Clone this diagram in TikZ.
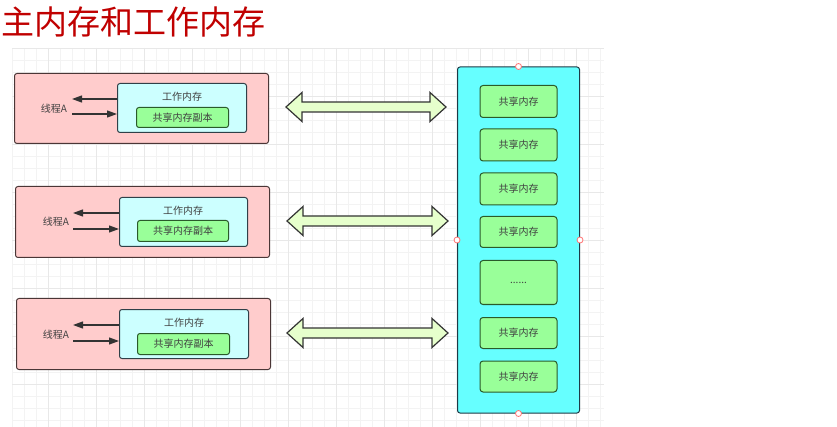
\documentclass[tikz,border=0pt]{standalone}
\usepackage{fontspec}
\setmainfont{Noto Sans CJK SC}
\usetikzlibrary{arrows.meta}
\definecolor{pinkc}{HTML}{FFCCCC}
\definecolor{pinkb}{HTML}{4A3636}
\definecolor{lcyan}{HTML}{CCFFFF}
\definecolor{lcyanb}{HTML}{2F4048}
\definecolor{greenc}{HTML}{99FF99}
\definecolor{greenb}{HTML}{2A5A2A}
\definecolor{bigc}{HTML}{66FFFF}
\definecolor{bigb}{HTML}{1E3A46}
\definecolor{arrc}{HTML}{E6FFCC}
\definecolor{titlec}{HTML}{C00000}
\definecolor{gridminor}{HTML}{F3F3F3}
\definecolor{gridmajor}{HTML}{E8E8E8}
\tikzset{
  outerbox/.style={draw=pinkb, fill=pinkc, line width=1pt, rounded corners=2.5pt, inner sep=0pt, anchor=north west},
  innerbox/.style={draw=lcyanb, fill=lcyan, line width=1pt, rounded corners=2.5pt, inner sep=0pt, anchor=north west},
  copybox/.style={draw=greenb, fill=greenc, line width=1pt, rounded corners=2.5pt, inner sep=0pt, anchor=north west, font=\fontsize{10}{12}\selectfont, text=black!75},
  bigbox/.style={draw=bigb, fill=bigc, line width=1pt, rounded corners=2.5pt, inner sep=0pt, anchor=north west},
  sharebox/.style={draw=greenb, fill=greenc, line width=1pt, rounded corners=3pt, inner sep=0pt, anchor=north west, minimum width=77pt, font=\fontsize{10}{12}\selectfont, text=black!75},
  lbl/.style={font=\fontsize{10}{12}\selectfont, text=black!75, inner sep=0pt},
  thread/.style={draw=black!80, line width=1.2pt, -{Triangle[length=10pt,width=7pt]}},
  blockarrow/.style={draw=black!80, fill=arrc, line width=1.2pt, line join=miter},
  handle/.style={circle, draw=red!55, fill=white, line width=0.8pt, inner sep=0pt, minimum size=6pt}
}
\newcommand\dblarr[3]{%
  \draw[blockarrow] (#1,#3) -- (#1+16,#3-14.5) -- (#1+16,#3-5) -- (#2-16,#3-5) -- (#2-16,#3-14.5) -- (#2,#3) -- (#2-16,#3+14.5) -- (#2-16,#3+5) -- (#1+16,#3+5) -- (#1+16,#3+14.5) -- cycle;}
\begin{document}
\begin{tikzpicture}[x=1pt,y=-1pt]
\useasboundingbox (0,0) rectangle (837,427);
\fill[white] (0,0) rectangle (837,427);
% grid
\draw[gridminor, line width=0.5pt] (12,48) grid[step=12pt] (604,427);
\foreach \x in {48,96,...,600} \draw[gridmajor, line width=0.6pt] (\x,48) -- (\x,427);
\foreach \y in {48,96,...,420} \draw[gridmajor, line width=0.6pt] (12,\y) -- (604,\y);
% title
\node[anchor=base west, inner sep=0pt, text=titlec, font=\fontsize{33}{36}\selectfont] (title) at (1,35) {主内存和工作内存};

% group 1
\node[outerbox, minimum width=254pt, minimum height=70pt] (o1) at (14,73) {};
\node[innerbox, minimum width=129pt, minimum height=49pt] (w1) at (117,83) {};
\node[lbl] (wt1) at (182,97) {工作内存};
\node[copybox, minimum width=92pt, minimum height=20pt] (c1) at (136,107) {共享内存副本};
\node[lbl] (t1) at (54,109) {线程A};
\coordinate (a1) at (72,99);
\coordinate (b1) at (72,114);
\draw[thread] (w1.west |- a1) -- (a1);
\draw[thread] (b1) -- (w1.west |- b1);

% group 2
\node[outerbox, minimum width=254pt, minimum height=71pt] (o2) at (15,186) {};
\node[innerbox, minimum width=128pt, minimum height=49pt] (w2) at (119,197) {};
\node[lbl] (wt2) at (183,211) {工作内存};
\node[copybox, minimum width=91pt, minimum height=21pt] (c2) at (137,220) {共享内存副本};
\node[lbl] (t2) at (56,222) {线程A};
\coordinate (a2) at (73,213);
\coordinate (b2) at (73,229);
\draw[thread] (w2.west |- a2) -- (a2);
\draw[thread] (b2) -- (w2.west |- b2);

% group 3
\node[outerbox, minimum width=254pt, minimum height=71pt] (o3) at (16,298) {};
\node[innerbox, minimum width=129pt, minimum height=49pt] (w3) at (119,309) {};
\node[lbl] (wt3) at (184,323) {工作内存};
\node[copybox, minimum width=92pt, minimum height=21pt] (c3) at (137,333) {共享内存副本};
\node[lbl] (t3) at (56,335) {线程A};
\coordinate (a3) at (73,325);
\coordinate (b3) at (73,341);
\draw[thread] (w3.west |- a3) -- (a3);
\draw[thread] (b3) -- (w3.west |- b3);

% block arrows
\dblarr{286}{446}{107}
\dblarr{287}{448}{221}
\dblarr{287}{448}{333}

% main memory
\node[bigbox, minimum width=122pt, minimum height=346pt] (main) at (457,66.5) {};
\node[sharebox, minimum height=32pt] (s1) at (479.5,85) {共享内存};
\node[sharebox, minimum height=32pt] (s2) at (479.5,128.5) {共享内存};
\node[sharebox, minimum height=32pt] (s3) at (479.5,172.5) {共享内存};
\node[sharebox, minimum height=31pt] (s4) at (479.5,216) {共享内存};
\node[sharebox, minimum height=44pt] (s5) at (479.5,260) {......};
\node[sharebox, minimum height=31pt] (s6) at (479.5,317) {共享内存};
\node[sharebox, minimum height=31pt] (s7) at (479.5,360.5) {共享内存};

% selection handles
\node[handle] (h1) at (main.north) {};
\node[handle] (h2) at (main.south) {};
\node[handle] (h3) at (main.west) {};
\node[handle] (h4) at (main.east) {};
\end{tikzpicture}
\end{document}
